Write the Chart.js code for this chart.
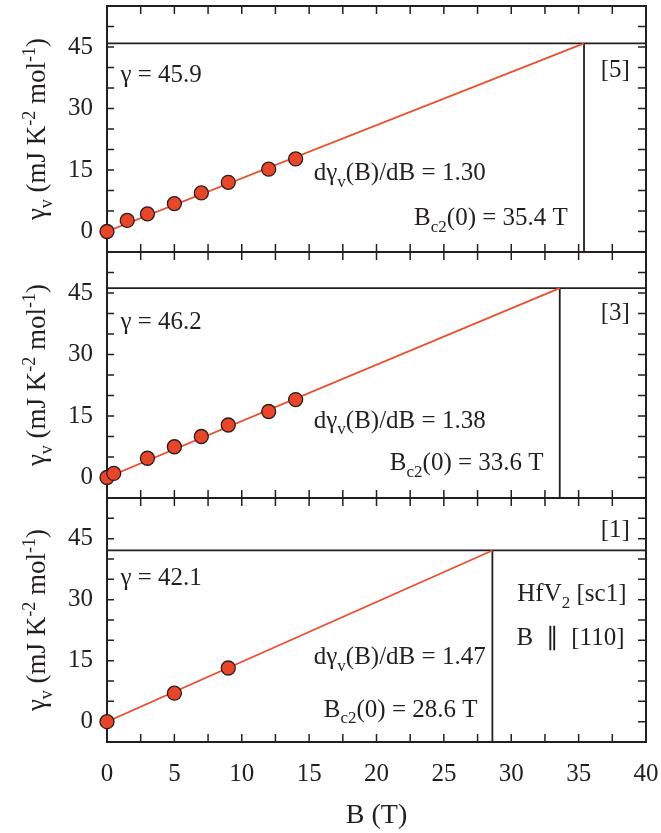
<!DOCTYPE html>
<html><head><meta charset="utf-8">
<script src="https://cdn.jsdelivr.net/npm/chart.js@4.4.1/dist/chart.umd.min.js"></script>
<style>
html,body{margin:0;padding:0;background:#fff;}
#wrap{position:relative;width:661px;height:833px;background:#fff;overflow:hidden;}
canvas{position:absolute;left:0;}
</style></head><body>
<div id="wrap">
<canvas id="c1" width="661" height="262" style="top:0px;width:661px;height:262px"></canvas>
<canvas id="c2" width="661" height="262" style="top:244px;width:661px;height:262px"></canvas>
<canvas id="c3" width="661" height="343" style="top:490px;width:661px;height:343px"></canvas>
</div>
<script>
// ---- data ----
const fieldB_p1 = [0, 1.5, 3, 5, 7, 9, 12, 14];
const gammaV_p1 = [0, 2.7, 4.3, 6.8, 9.4, 12.0, 15.2, 17.7];
const fieldB_p2 = [0, 0.5, 3, 5, 7, 9, 12, 14];
const gammaV_p2 = [0, 1.0, 4.7, 7.5, 10.0, 12.8, 16.1, 19.0];
const fieldB_p3 = [0, 5, 9];
const gammaV_p3 = [0, 7.0, 13.2];
const gammaN = [45.9, 46.2, 42.1];
const slopeTxt = ['1.30', '1.38', '1.47'];
const bc2 = [35.4, 33.6, 28.6];
const refLabels = ['[5]', '[3]', '[1]'];
const xTicks = [0, 5, 10, 15, 20, 25, 30, 35, 40];
const yTicks = [0, 15, 30, 45];
const xMinor = [2.5, 5, 7.5, 10, 12.5, 15, 17.5, 20, 22.5, 25, 27.5, 30, 32.5, 35, 37.5];
const yMinor = [0, 5, 10, 15, 20, 25, 30, 35, 40, 45, 50];
const xRange = [0, 40];
const yRange = [-5, 55];

// ---- style ----
const FONT = '"Liberation Serif", "Times New Roman", serif';
const INK = '#231f20';
const RED = '#e8462b';
const RED_LINE = '#e8502f';
const TXT = 25;

function drawRich(ctx, parts, x, y, align, size) {
  const segs = parts.map(([t, k]) => {
    const s = k === 'n' ? size : Math.round(size * 0.66);
    ctx.font = s + 'px ' + FONT;
    return {t, k, s, w: ctx.measureText(t).width};
  });
  const total = segs.reduce((a, b) => a + b.w, 0);
  let cx = align === 'right' ? x - total : align === 'center' ? x - total / 2 : x;
  ctx.textBaseline = 'alphabetic';
  ctx.textAlign = 'left';
  for (const sg of segs) {
    ctx.font = sg.s + 'px ' + FONT;
    const dy = sg.k === 'sub' ? size * 0.26 : sg.k === 'sup' ? -size * 0.38 : 0;
    ctx.fillText(sg.t, cx, y + dy);
    cx += sg.w;
  }
}

const framePlugin = {
  id: 'frame',
  beforeDatasetsDraw(chart) {
    const {ctx, chartArea: a, scales: {x, y}} = chart;
    ctx.save();
    ctx.strokeStyle = INK;
    ctx.lineWidth = 2;
    ctx.strokeRect(a.left, a.top, a.right - a.left, a.bottom - a.top);
    ctx.lineWidth = 1.5;
    ctx.beginPath();
    const TL = 8;
    xMinor.forEach(v => {
      const px = x.getPixelForValue(v);
      ctx.moveTo(px, a.bottom); ctx.lineTo(px, a.bottom - TL);
      ctx.moveTo(px, a.top); ctx.lineTo(px, a.top + TL);
    });
    yMinor.forEach(v => {
      const py = y.getPixelForValue(v);
      ctx.moveTo(a.left, py); ctx.lineTo(a.left + 7, py);
      ctx.moveTo(a.right, py); ctx.lineTo(a.right - 8, py);
    });
    ctx.stroke();
    ctx.restore();
  }
};

function textPlugin(i) {
  return {
    id: 'texts' + i,
    afterDraw(chart) {
      const {ctx, chartArea: a, scales: {x, y}} = chart;
      const X = v => x.getPixelForValue(v), Y = v => y.getPixelForValue(v);
      ctx.save();
      ctx.fillStyle = INK;
      // y-axis title
      ctx.save();
      ctx.translate(45, (a.top + a.bottom) / 2);
      ctx.rotate(-Math.PI / 2);
      drawRich(ctx, [['γ', 'n'], ['v', 'sub'], [' (mJ K', 'n'], ['-2', 'sup'], [' mol', 'n'], ['-1', 'sup'], [')', 'n']], 0, 0, 'center', 27);
      ctx.restore();
      const pos = [
        {g: [1.0, 36.5], r: [38.8, 37.6], s: [28.1, 12.5], b: [34.2, 1.5]},
        {g: [1.0, 36.3], r: [38.8, 38.5], s: [28.1, 12.1], b: [32.4, 1.8]},
        {g: [1.0, 33.5], r: [38.8, 45.5], s: [28.1, 14.1], b: [27.5, 1.2]}
      ][i];
      drawRich(ctx, [['γ = ' + gammaN[i].toFixed(1), 'n']], X(pos.g[0]), Y(pos.g[1]), 'left', TXT);
      drawRich(ctx, [[refLabels[i], 'n']], X(pos.r[0]), Y(pos.r[1]), 'right', TXT);
      drawRich(ctx, [['dγ', 'n'], ['v', 'sub'], ['(B)/dB = ' + slopeTxt[i], 'n']], X(pos.s[0]), Y(pos.s[1]), 'right', TXT);
      drawRich(ctx, [['B', 'n'], ['c2', 'sub'], ['(0) = ' + bc2[i].toFixed(1) + ' T', 'n']], X(pos.b[0]), Y(pos.b[1]), 'right', TXT);
      if (i === 2) {
        drawRich(ctx, [['HfV', 'n'], ['2', 'sub'], [' [sc1]', 'n']], X(34.5), Y(29.6), 'center', TXT);
        drawRich(ctx, [['B  \u2225  [110]', 'n']], X(34.4), Y(18.8), 'center', TXT);
      }
      ctx.restore();
    }
  };
}

function zeroPad(s) { s.paddingTop = 0; s.paddingBottom = 0; s.paddingLeft = 0; s.paddingRight = 0; }

const panels = [
  {id: 'c1', B: fieldB_p1, G: gammaV_p1, pad: {top: 6, bottom: 10}},
  {id: 'c2', B: fieldB_p2, G: gammaV_p2, pad: {top: 8, bottom: 8}},
  {id: 'c3', B: fieldB_p3, G: gammaV_p3, pad: {top: 8, bottom: 0}}
];

panels.forEach((p, i) => {
  const isBottom = i === 2;
  const pts = p.B.map((b, k) => ({x: b, y: p.G[k]}));
  new Chart(document.getElementById(p.id), {
    type: 'scatter',
    data: {
      datasets: [
        {label: 'data', data: pts, showLine: false, pointRadius: 7, pointHoverRadius: 7,
         pointBackgroundColor: RED, pointBorderColor: '#2b1d1b', pointBorderWidth: 1.3, clip: false, order: 0},
        {label: 'fit', data: [{x: 0, y: 0}, {x: bc2[i], y: gammaN[i]}], showLine: true,
         borderColor: RED_LINE, borderWidth: 1.8, pointRadius: 0, order: 1},
        {label: 'gamma', data: [{x: xRange[0], y: gammaN[i]}, {x: xRange[1], y: gammaN[i]}], showLine: true,
         borderColor: INK, borderWidth: 1.8, pointRadius: 0, order: 2},
        {label: 'bc2', data: [{x: bc2[i], y: gammaN[i]}, {x: bc2[i], y: yRange[0]}], showLine: true,
         borderColor: INK, borderWidth: 1.8, pointRadius: 0, order: 3}
      ]
    },
    options: {
      responsive: false, animation: false, devicePixelRatio: 1,
      events: [],
      layout: {autoPadding: false, padding: {top: p.pad.top, bottom: p.pad.bottom, left: 0, right: 15}},
      plugins: {legend: {display: false}, tooltip: {enabled: false}},
      scales: {
        x: {
          type: 'linear', min: xRange[0], max: xRange[1],
          grid: {display: false, drawTicks: false}, border: {display: false},
          ticks: {display: isBottom, font: {family: FONT, size: 25}, color: INK, padding: 17},
          title: {display: isBottom, text: 'B (T)', font: {family: FONT, size: 28}, color: INK, padding: {top: 0, bottom: 1}},
          afterBuildTicks: s => { s.ticks = xTicks.map(v => ({value: v})); },
          afterFit: s => { s.height = isBottom ? 91 : 0; zeroPad(s); }
        },
        y: {
          type: 'linear', min: yRange[0], max: yRange[1],
          grid: {display: false, drawTicks: false}, border: {display: false},
          ticks: {font: {family: FONT, size: 25}, color: INK, padding: 14},
          afterBuildTicks: s => { s.ticks = yTicks.map(v => ({value: v})); },
          afterFit: s => { s.width = 107; zeroPad(s); }
        }
      }
    },
    plugins: [framePlugin, textPlugin(i)]
  });
});
</script>
</body></html>
